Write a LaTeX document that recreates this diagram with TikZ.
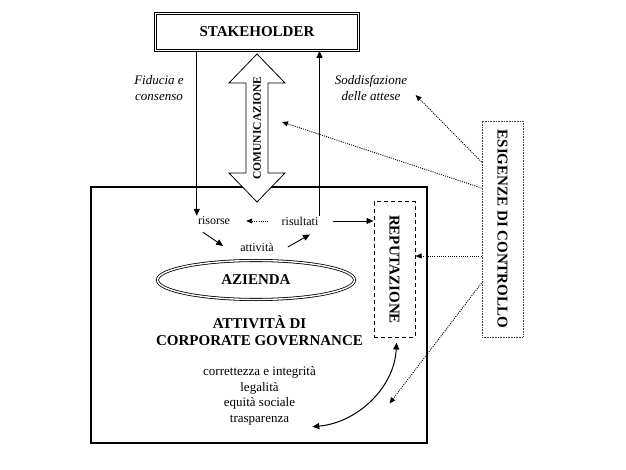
\documentclass[tikz,border=0pt]{standalone}
\usepackage{fontspec}
\setmainfont{Liberation Serif}
\usepackage{graphicx}
\usetikzlibrary{arrows.meta, positioning, shapes.geometric, calc}
\newcommand{\titf}{\fontsize{15}{17}\selectfont\bfseries}
\newcommand{\txtf}{\fontsize{12}{14}\selectfont}
\newcommand{\valf}{\fontsize{13}{15.5}\selectfont}
\newcommand{\itf}{\fontsize{13}{16.5}\selectfont\itshape}
\newcommand{\comf}{\fontsize{11.5}{13}\selectfont\bfseries}
\tikzset{
  myarr/.style  = {-{Triangle[length=7pt, width=6pt]}, line width=0.9pt},
  dotarr/.style = {-{Triangle[length=6pt, width=5pt]}, line width=0.9pt, dash pattern=on 1pt off 1.2pt},
  dblarr/.style = {{Triangle[length=7pt, width=6pt]}-{Triangle[length=7pt, width=6pt]}, line width=1pt},
  %% Box presets
  stbox/.style  = {draw, double, double distance=1.6pt, line width=0.8pt, inner sep=0pt, font=\titf},
  azbox/.style  = {draw, line width=1.1pt, inner sep=0pt},
  repbox/.style = {draw, line width=1pt, dash pattern=on 4pt off 3pt, inner sep=0pt, font=\titf},
  esbox/.style  = {draw=black!75, line width=0.9pt, dash pattern=on 0.8pt off 0.8pt, inner sep=0pt, font=\titf},
  azell/.style  = {ellipse, draw, double, double distance=1.4pt, line width=0.8pt, inner sep=0pt, font=\titf},
  bigarr/.style = {draw, fill=white, line width=0.8pt, line join=miter},
  lbl/.style    = {inner sep=1pt, font=\txtf},
}
\begin{document}
\begin{tikzpicture}[x=1pt, y=-1pt]
\useasboundingbox (0,0) rectangle (626,470);

%% ---- (1) Stakeholder ----
\node[stbox, minimum width=203, minimum height=37] (stake) at (257,32) {STAKEHOLDER};

\node[align=center, font=\itf] (fiducia) at (159,88) {Fiducia e\\consenso};
\node[align=center, font=\itf] (sodd)    at (371,88) {Soddisfazione\\delle attese};

%% ---- (2) Azienda ----
\node[azbox, minimum width=336, minimum height=256] (azbox) at (259,315) {};

\node[lbl] (risorse)   at (214,221) {risorse};
\node[lbl] (risultati) at (300,221) {risultati};
\node[lbl] (attivita)  at (257,247) {attività};

\node[azell, minimum width=197, minimum height=39] (azienda) at (256,280) {AZIENDA};

\node[align=center, font=\titf] (cg) at (259.5,331) {ATTIVITÀ DI\\CORPORATE GOVERNANCE};
\node[align=center, font=\valf] (valori) at (259.5,396) {correttezza e integrità\\legalità\\equità sociale\\trasparenza};

%% ---- (3) Reputazione, esigenze di controllo ----
\node[repbox, minimum width=41, minimum height=135] (rep)  at (394.5,269.5) {\rotatebox{-90}{REPUTAZIONE}};
\node[esbox,  minimum width=41, minimum height=216] (esig) at (502.5,229)   {\rotatebox{-90}{ESIGENZE DI CONTROLLO}};

%% ---- (4) Comunicazione ----
\coordinate (comm) at (257,128);
\draw[bigarr] ($(comm)+(0,-74)$) -- ++(28,29) -- ++(-17,0) -- ++(0,90) -- ++(17,0)
  -- ($(comm)+(0,74)$) -- ++(-28,-29) -- ++(17,0) -- ++(0,-90) -- ++(-17,0) -- cycle;
\node[rotate=90, font=\comf] (commtxt) at (comm) {COMUNICAZIONE};

%% ---- (5) Arrows ----
\draw[myarr] (stake.south -| risorse.west) -- (risorse.north west);
\draw[myarr] (risultati.north east) -- (risultati.north east |- stake.south);

\draw[dotarr, shorten <=12pt, shorten >=15pt] (risultati.west) -- (risorse.east);
\draw[myarr, shorten <=13pt] (risultati.east) -- (risultati.east -| rep.west);
\draw[myarr] ($(risorse.south)+(-11,6)$) -- ($(attivita.west)+(-16,-1)$);
\draw[myarr] ($(attivita.east)+(13,0)$) -- ($(risultati.south)+(10,8)$);

%% Esigenze -> ...
\draw[dotarr] ([yshift=67pt]esig.west)  -- ($(sodd.east)+(5,7)$);
\draw[dotarr] ([yshift=41pt]esig.west)  -- ($(comm)+(25,-6)$);
\draw[dotarr] ([yshift=-27pt]esig.west) -- ([yshift=-27pt]esig.west -| rep.east);
\draw[dotarr] ([yshift=-54pt]esig.west) -- ($(rep.south)+(-5,66)$);

%% Reputazione <-> valori
\draw[dblarr] ($(rep.south)+(2,5)$) .. controls +(-2,45) and +(45,-4) .. ($(valori.south east)+(-7,-2)$);

\end{tikzpicture}
\end{document}
